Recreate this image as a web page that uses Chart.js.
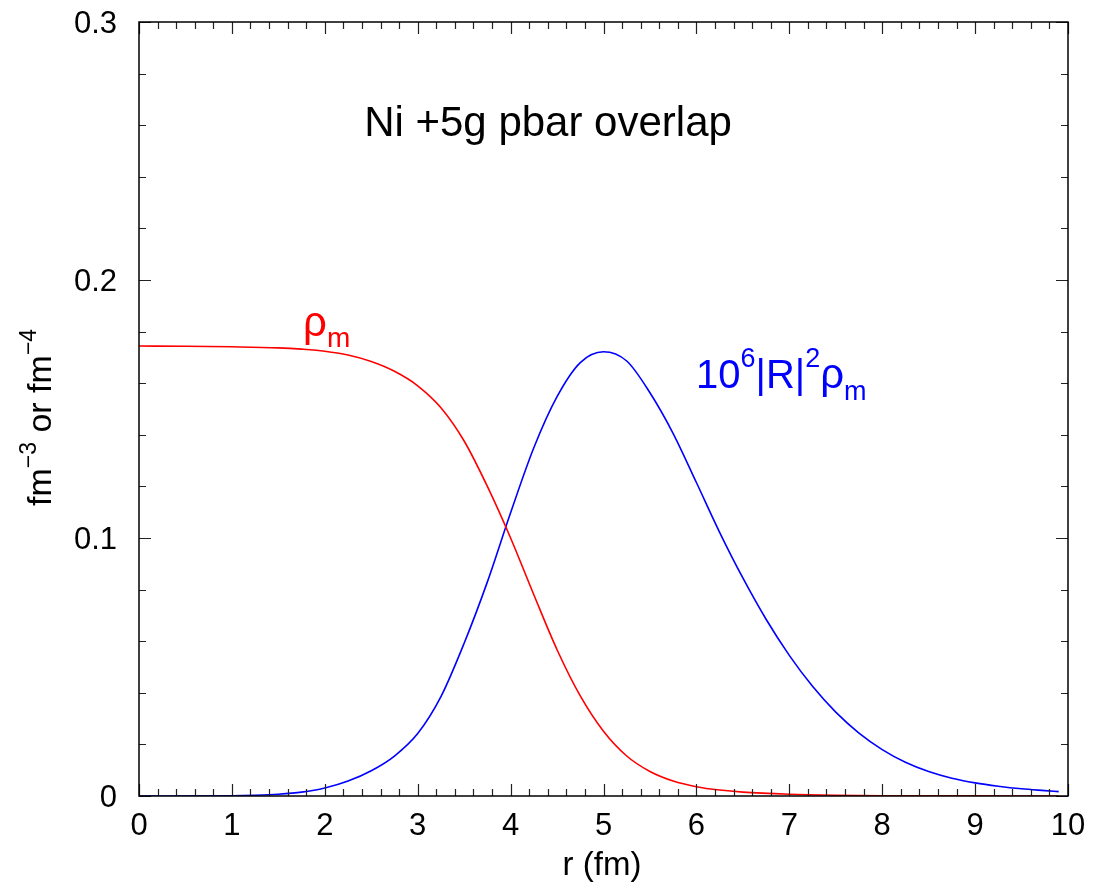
<!DOCTYPE html>
<html><head><meta charset="utf-8">
<script src="https://cdn.jsdelivr.net/npm/chart.js@4.4.1/dist/chart.umd.min.js"></script>
<style>html,body{margin:0;padding:0;background:#fff;}#wrap{width:1093px;height:888px;position:relative;}</style>
</head><body><div id="wrap"><canvas id="c" width="1093" height="888"></canvas></div>
<script>
// r (fm) sample points and matter density rho_m (fm^-3)
const rRed = [0, 0.5, 1.0, 1.5, 1.75, 2.0, 2.25, 2.5, 2.75, 3.0, 3.25, 3.5, 3.75, 4.0, 4.25, 4.5, 4.75, 5.0, 5.25, 5.5, 5.75, 6.0, 6.25, 6.5, 7.0, 7.5, 8.0, 9.0, 9.9];
const rhoM = [0.1744, 0.1743, 0.1741, 0.1737, 0.1732, 0.1724, 0.1709, 0.1684, 0.1646, 0.1590, 0.1505, 0.1376, 0.1200, 0.1000, 0.0780, 0.0567, 0.0388, 0.0251, 0.0155, 0.0095, 0.0058, 0.0036, 0.0023, 0.0015, 0.0007, 0.0003, 0.0001, 0.00003, 0.0000];
// r (fm) sample points and 10^6 |R|^2 rho_m (fm^-4)
const rBlue = [0, 1.0, 1.25, 1.5, 1.75, 2.0, 2.25, 2.5, 2.75, 3.0, 3.25, 3.5, 3.75, 4.0, 4.25, 4.5, 4.75, 5.0, 5.25, 5.5, 5.75, 6.0, 6.25, 6.5, 6.75, 7.0, 7.25, 7.5, 7.75, 8.0, 8.25, 8.5, 8.75, 9.0, 9.25, 9.5, 9.75, 9.9];
const overlap = [0, 0.0001, 0.0003, 0.0007, 0.0015, 0.0031, 0.0058, 0.0098, 0.0155, 0.0242, 0.0385, 0.0592, 0.0830, 0.1098, 0.1350, 0.1548, 0.1680, 0.1722, 0.1686, 0.1563, 0.1405, 0.1215, 0.1022, 0.0845, 0.0685, 0.0545, 0.0425, 0.0325, 0.0244, 0.0180, 0.0131, 0.0095, 0.0069, 0.0051, 0.0038, 0.0028, 0.0021, 0.0017];
// axis ticks
const xTickValues = [0,1,2,3,4,5,6,7,8,9,10];
const xTickLabels = ['0','1','2','3','4','5','6','7','8','9','10'];
const yTickValues = [0, 0.1, 0.2, 0.3];
const yTickLabels = ['0','0.1','0.2','0.3'];
const titleText = 'Ni +5g pbar overlap';
const xTitle = 'r (fm)';

const FONT = '"Liberation Sans", Arial, Helvetica, sans-serif';

function drawRich(ctx, x, y, parts, color) {
  ctx.fillStyle = color;
  ctx.textBaseline = 'alphabetic';
  ctx.textAlign = 'left';
  let cx = x;
  for (const p of parts) {
    ctx.font = p.size + 'px ' + FONT;
    ctx.fillText(p.t, cx, y + (p.dy || 0));
    cx += ctx.measureText(p.t).width;
  }
}

const decor = {
  id: 'decor',
  afterDraw(chart) {
    const ctx = chart.ctx;
    const a = chart.chartArea;
    const xs = chart.scales.x, ys = chart.scales.y;
    ctx.save();
    // ticks
    ctx.strokeStyle = '#222';
    ctx.lineWidth = 1.2;
    ctx.beginPath();
    for (let i = 0; i <= 50; i++) {
      const v = i * 0.2;
      const px = Math.round(xs.getPixelForValue(v)) + 0.5;
      const len = (i % 5 === 0) ? 12 : 7;
      ctx.moveTo(px, a.bottom); ctx.lineTo(px, a.bottom - len);
      ctx.moveTo(px, a.top); ctx.lineTo(px, a.top + len);
    }
    for (let i = 0; i <= 15; i++) {
      const v = i * 0.02;
      const py = Math.round(ys.getPixelForValue(v)) + 0.5;
      const len = (i % 5 === 0) ? 12 : 7;
      ctx.moveTo(a.left, py); ctx.lineTo(a.left + len, py);
      ctx.moveTo(a.right, py); ctx.lineTo(a.right - len, py);
    }
    ctx.stroke();
    // frame
    ctx.strokeStyle = '#000';
    ctx.lineWidth = 1.5;
    ctx.strokeRect(a.left, a.top, a.right - a.left, a.bottom - a.top);
    // tick labels
    ctx.fillStyle = '#000';
    ctx.font = '31px ' + FONT;
    ctx.textAlign = 'center';
    ctx.textBaseline = 'alphabetic';
    xTickValues.forEach((v, i) => {
      ctx.fillText(xTickLabels[i], xs.getPixelForValue(v), a.bottom + 39);
    });
    ctx.textAlign = 'right';
    yTickValues.forEach((v, i) => {
      ctx.fillText(yTickLabels[i], 117, ys.getPixelForValue(v) + 11);
    });
    // axis titles
    ctx.textAlign = 'center';
    ctx.font = '33px ' + FONT;
    ctx.fillText(xTitle, 602, 875);
    ctx.save();
    ctx.translate(51, 506);
    ctx.rotate(-Math.PI / 2);
    drawRich(ctx, 0, 0, [
      {t: 'fm', size: 34}, {t: '\u22123', size: 23, dy: -15},
      {t: ' or fm', size: 34}, {t: '\u22124', size: 23, dy: -15}
    ], '#000');
    ctx.restore();
    // title
    ctx.save();
    ctx.font = '42px ' + FONT;
    ctx.textAlign = 'center';
    ctx.fillStyle = '#000';
    ctx.fillText(titleText, 548, 136);
    ctx.restore();
    // curve labels
    drawRich(ctx, 303, 336, [
      {t: '\u03c1', size: 42}, {t: 'm', size: 28, dy: 11}
    ], '#ff0000');
    drawRich(ctx, 696, 388, [
      {t: '10', size: 40}, {t: '6', size: 27, dy: -21},
      {t: '|R|', size: 40}, {t: '2', size: 27, dy: -21},
      {t: '\u03c1', size: 42}, {t: 'm', size: 27, dy: 12}
    ], '#0000ff');
    ctx.restore();
  }
};

new Chart(document.getElementById('c'), {
  type: 'scatter',
  data: {
    datasets: [
      { label: 'rho_m', data: rRed.map((r, i) => ({x: r, y: rhoM[i]})),
        showLine: true, borderColor: '#ff0000', borderWidth: 1.6, pointRadius: 0,
        tension: 0.4, cubicInterpolationMode: 'monotone' },
      { label: '10^6|R|^2 rho_m', data: rBlue.map((r, i) => ({x: r, y: overlap[i]})),
        showLine: true, borderColor: '#0000ff', borderWidth: 1.6, pointRadius: 0,
        tension: 0.4, cubicInterpolationMode: 'monotone' }
    ]
  },
  options: {
    responsive: false,
    animation: false,
    layout: { padding: { left: 139, right: 25, top: 22, bottom: 92 } },
    scales: {
      x: { type: 'linear', min: 0, max: 10, display: false },
      y: { type: 'linear', min: 0, max: 0.3, display: false }
    },
    plugins: { legend: { display: false }, tooltip: { enabled: false } }
  },
  plugins: [decor]
});
</script>
</body></html>
